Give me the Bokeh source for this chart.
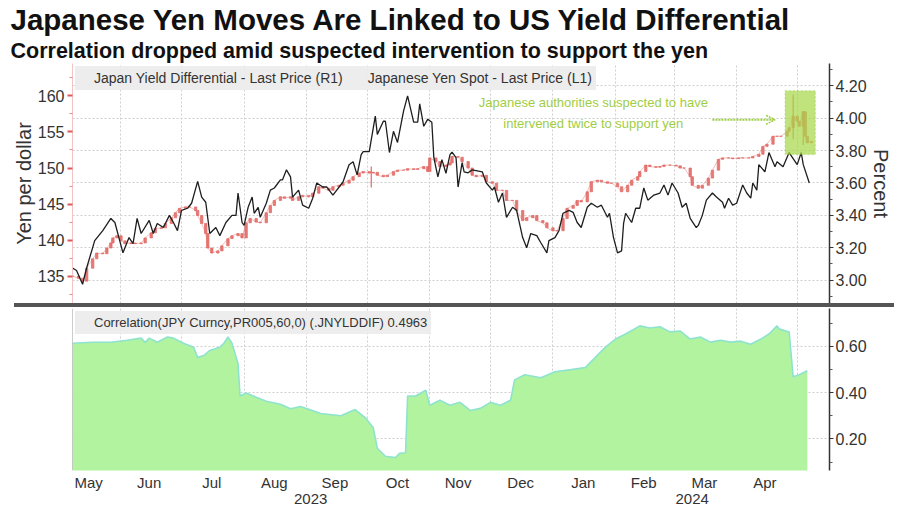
import pandas as pd
from bokeh.plotting import figure
from bokeh.layouts import column
from bokeh.models import (LinearAxis, Range1d, FixedTicker, Legend, LegendItem, Label,
                          Arrow, OpenHead, BoxAnnotation, Title, Div, Grid, Span,
                          NumeralTickFormatter)
from bokeh.embed import file_html
from bokeh.resources import INLINE

START = pd.Timestamp("2023-05-08")

# (days since 2023-05-08, Japan yield differential %)  -> right axis R1
yield_diff = [(0,3.075),(2,3.06),(5,2.975),(7,3.075),(11,3.244),(15,3.306),(19,3.381),(21,3.356),
 (25,3.169),(28,3.263),(30,3.225),(32,3.381),(34,3.288),(38,3.369),(40,3.288),(42,3.35),(45,3.325),
 (48,3.40),(50,3.356),(52,3.306),(54,3.431),(57,3.444),(59,3.475),(62,3.61),(64,3.513),(66,3.481),
 (68,3.288),(71,3.325),(73,3.275),(76,3.356),(79,3.40),(81,3.40),(82,3.538),(84,3.356),(85,3.338),
 (87,3.45),(89,3.513),(90,3.413),(92,3.45),(93,3.388),(96,3.475),(98,3.556),(100,3.569),(103,3.619),
 (104,3.619),(106,3.681),(108,3.638),(109,3.513),(112,3.556),(114,3.463),(117,3.444),(119,3.506),
 (121,3.60),(124,3.575),(126,3.575),(129,3.525),(134,3.606),(137,3.713),(139,3.731),(141,3.65),
 (143,3.775),(144,3.794),(147,3.794),(150,4.013),(151,3.90),(154,3.981),(155,3.981),(157,3.788),
 (159,3.919),(161,3.85),(164,4.044),(166,4.138),(169,3.975),(171,3.975),(172,4.088),(174,3.95),
 (176,3.994),(178,3.975),(179,3.756),(181,3.638),(183,3.744),(185,3.66),(187,3.775),(188,3.79),
 (190,3.756),(191,3.575),(193,3.725),(194,3.669),(196,3.663),(198,3.681),(203,3.669),(205,3.60),
 (208,3.556),(209,3.575),(211,3.481),(213,3.538),(215,3.388),(218,3.45),(220,3.431),(223,3.263),
 (225,3.20),(227,3.288),(230,3.275),(232,3.231),(235,3.169),(236,3.244),(239,3.263),(241,3.306),
 (243,3.413),(246,3.431),(248,3.419),(250,3.356),(252,3.325),(255,3.45),(257,3.475),(260,3.45),
 (262,3.463),(265,3.388),(266,3.413),(268,3.263),(270,3.169),(272,3.181),(273,3.35),(274,3.413),
 (277,3.356),(279,3.444),(281,3.444),(283,3.569),(285,3.494),(288,3.525),(291,3.538),(293,3.588),
 (295,3.525),(297,3.60),(300,3.538),(302,3.45),(304,3.475),(306,3.381),(309,3.325),(310,3.338),
 (312,3.40),(314,3.494),(317,3.538),(319,3.513),(322,3.481),(323,3.444),(325,3.506),(327,3.463),
 (329,3.475),(332,3.588),(334,3.538),(336,3.506),(337,3.60),(339,3.556),(340,3.713),(343,3.669),
 (345,3.788),(348,3.70),(349,3.731),(352,3.70),(355,3.788),(359,3.713),(361,3.788),(362,3.713),
 (365,3.60)]

# (days since 2023-05-08, USDJPY close) -> left axis L1
yen_spot = [(0,135.0),(3,134.7),(5,134.3),(7,136.1),(10,137.4),(12,138.2),(15,138.1),(17,138.9),
 (19,139.6),(20,140.3),(22,140.6),(24,139.9),(26,139.5),(29,139.6),(31,139.5),(34,139.6),(36,140.3),
 (39,141.0),(41,141.6),(44,141.7),(46,142.3),(49,143.1),(51,143.8),(53,144.4),(56,144.6),(58,144.6),
 (61,144.1),(62,143.4),(64,142.3),(66,140.9),(67,138.9),(69,138.2),(72,138.5),(74,139.2),(77,140.2),
 (79,140.6),(82,140.9),(84,140.3),(86,142.4),(88,143.0),(91,142.5),(93,142.4),(96,143.8),(98,144.8),
 (100,145.5),(103,146.0),(105,145.8),(108,146.0),(109,145.5),(112,146.0),(114,146.2),(117,146.0),
 (119,146.5),(122,147.4),(124,147.2),(127,146.9),(129,147.4),(132,147.6),(134,147.9),(137,148.3),
 (139,148.8),(142,149.3),(144,149.5),(147,149.3),(149,149.4),(151,149.0),(154,148.8),(156,149.0),
 (159,149.5),(161,149.7),(164,149.7),(166,149.9),(169,149.8),(171,149.9),(174,150.2),(176,149.5),
 (177,151.4),(180,150.9),(182,150.2),(185,150.4),(187,150.7),(188,151.6),(191,151.5),(193,150.9),
 (196,150.0),(198,149.0),(200,148.8),(203,149.0),(205,148.1),(208,147.9),(210,146.9),(213,146.9),
 (215,145.5),(218,145.5),(220,144.1),(223,142.7),(225,143.1),(228,143.4),(230,142.7),(233,142.4),
 (235,141.7),(238,141.3),(240,141.3),(243,143.0),(245,144.4),(248,144.8),(250,145.5),(252,145.3),
 (255,146.7),(257,148.1),(260,148.3),(262,148.1),(265,147.9),(267,147.9),(270,147.4),(272,146.7),
 (275,147.6),(277,148.3),(280,148.8),(281,149.5),(284,150.4),(286,150.2),(289,150.1),(291,150.2),
 (293,150.4),(296,150.4),(299,150.3),(301,150.0),(303,150.0),(306,148.8),(307,147.6),(310,147.2),
 (312,147.6),(315,148.6),(317,149.7),(320,151.2),(322,151.4),(325,151.4),(327,151.3),(330,151.4),
 (332,151.4),(335,151.4),(337,151.6),(340,151.9),(342,153.0),(344,153.3),(347,154.4),(349,154.4),
 (351,154.4),(354,155.1),(355,155.6),(357,157.2),(359,156.5),(360,155.8),(362,157.8),(363,154.4),
 (364,153.5),(366,153.7)]

# notable intraday ranges (days, low, high)
yen_wicks = [(148,147.3,150.2),(357,154.0,160.2),(362,153.2,157.9)]

# (days since 2023-05-08, 60-day correlation)
correlation = [(0,0.613),(10,0.617),(19,0.617),(27,0.626),(34,0.635),(36,0.617),(38,0.635),(42,0.617),
 (47,0.64),(50,0.635),(55,0.613),(60,0.596),(62,0.552),(65,0.56),(68,0.582),(73,0.596),(75,0.613),
 (77,0.64),(79,0.613),(82,0.525),(83,0.385),(86,0.398),(91,0.38),(96,0.363),(103,0.35),(108,0.33),
 (113,0.34),(123,0.31),(133,0.30),(140,0.327),(145,0.292),(149,0.248),(151,0.16),(155,0.125),
 (160,0.12),(162,0.138),(165,0.14),(166,0.385),(170,0.385),(175,0.41),(177,0.345),(182,0.367),
 (187,0.345),(192,0.358),(197,0.323),(202,0.332),(207,0.358),(212,0.345),(217,0.367),(219,0.455),
 (224,0.477),(232,0.464),(239,0.49),(247,0.499),(254,0.508),(259,0.552),(264,0.596),(269,0.631),
 (274,0.653),(281,0.688),(286,0.679),(291,0.684),(296,0.662),(301,0.666),(306,0.631),(311,0.64),
 (316,0.618),(321,0.626),(326,0.618),(331,0.622),(336,0.609),(341,0.631),(345,0.653),(349,0.688),
 (350,0.675),(355,0.662),(357,0.468),(360,0.477),(364,0.494)]

month_starts = ["2023-06-01","2023-07-01","2023-08-01","2023-09-01","2023-10-01","2023-11-01",
                "2023-12-01","2024-01-01","2024-02-01","2024-03-01","2024-04-01","2024-05-01"]
month_label_dates = ["2023-05-16","2023-06-15","2023-07-16","2023-08-16","2023-09-15","2023-10-16",
                     "2023-11-15","2023-12-16","2024-01-16","2024-02-15","2024-03-16","2024-04-15"]
month_labels = ["May","Jun","Jul","Aug","Sep","Oct","Nov","Dec","Jan","Feb","Mar","Apr"]
year_label_dates = ["2023-09-03","2024-03-10"]
year_labels = ["2023","2024"]

yen_ticks = [135, 140, 145, 150, 155, 160]
pct_ticks = [3.0, 3.2, 3.4, 3.6, 3.8, 4.0, 4.2]
corr_ticks = [0.2, 0.4, 0.6]


def day(s):
    return (pd.Timestamp(s) - START).days


FONT = "Liberation Sans"
GREEN_TXT = "#9fcd45"
RED = "#e26a66"
TXT = "#333333"
W = 898
MBL, MBR = 72, 69

d_days = [a for a, _ in yield_diff]
d_vals = [b for _, b in yield_diff]
y_days = [a for a, _ in yen_spot]
y_close = [b for _, b in yen_spot]
y_open = [y_close[0]] + y_close[:-1]
y_top = [max(o, c) for o, c in zip(y_open, y_close)]
y_bot = [min(o, c) for o, c in zip(y_open, y_close)]
c_days = [a for a, _ in correlation]
c_vals = [b for _, b in correlation]

xr = Range1d(0, 375)

# ---------------- top panel ----------------
p = figure(width=W, height=303, x_range=xr, y_range=Range1d(131.2, 164.5),
           output_backend="svg", toolbar_location=None,
           x_axis_location=None, y_axis_location=None,
           min_border_left=MBL, min_border_right=MBR, min_border_top=0, min_border_bottom=0)
p.extra_y_ranges = {"pct": Range1d(2.856, 4.3375)}
p.outline_line_color = None

for g in p.grid:
    g.visible = False
p.add_layout(Grid(dimension=0, ticker=FixedTicker(ticks=[day(s) for s in month_starts]),
                  grid_line_color="#cfcfcf", grid_line_dash="2 2", grid_line_width=1))
p.add_layout(Grid(dimension=1, y_range_name="pct", ticker=FixedTicker(ticks=pct_ticks),
                  grid_line_color="#cfcfcf", grid_line_dash="2 2", grid_line_width=1))

left = LinearAxis(ticker=FixedTicker(ticks=yen_ticks, minor_ticks=[132.5 + 5 * i for i in range(7)]),
                  axis_label="Yen per dollar", axis_label_text_font=FONT,
                  axis_label_text_font_size="20px", axis_label_text_font_style="normal",
                  axis_label_text_color=TXT, axis_label_standoff=0,
                  axis_line_color="#f2c4c4", major_tick_line_color="#e05a5a",
                  minor_tick_line_color="#e88a8a", major_tick_out=5, major_tick_in=0,
                  minor_tick_out=3, minor_tick_in=0, major_tick_line_width=2,
                  major_label_text_font=FONT, major_label_text_font_size="16px",
                  major_label_text_color=TXT, major_label_standoff=3)
p.add_layout(left, "left")

right = LinearAxis(y_range_name="pct",
                   ticker=FixedTicker(ticks=pct_ticks, minor_ticks=[2.9 + 0.2 * i for i in range(8)]),
                   formatter=NumeralTickFormatter(format="0.00"),
                   axis_label="Percent", axis_label_text_font=FONT,
                   axis_label_text_font_size="20px", axis_label_text_font_style="normal",
                   axis_label_text_color=TXT, axis_label_standoff=0,
                   axis_line_color=TXT, axis_line_width=1.5,
                   major_tick_line_color=TXT, minor_tick_line_color="#555555",
                   major_tick_out=4, major_tick_in=0, minor_tick_out=3, minor_tick_in=0,
                   major_label_text_font=FONT, major_label_text_font_size="16px",
                   major_label_text_color=TXT, major_label_standoff=2)
p.add_layout(right, "right")

# yen candles
p.line(y_days, y_close, line_color=RED, line_width=0.8, line_alpha=0.55)
p.vbar(x=y_days, top=y_top, bottom=y_bot, width=1.2, fill_color=RED, line_color=RED,
       line_width=0.7, fill_alpha=0.9)
p.segment(x0=[w[0] for w in yen_wicks], y0=[w[1] for w in yen_wicks],
          x1=[w[0] for w in yen_wicks], y1=[w[2] for w in yen_wicks], line_color=RED, line_width=1.2)

# yield differential line
p.line(d_days, d_vals, y_range_name="pct", line_color="#1e1e1e", line_width=1.3)

# intervention box, annotation and arrow
p.add_layout(BoxAnnotation(left=353, right=368, top=4.17, bottom=3.775, y_range_name="pct",
                           fill_color="#a9d84b", fill_alpha=0.72, line_color="#8fc52f",
                           line_dash="2 2", line_width=1.5))
p.add_layout(Label(x=258, y=4.094, y_range_name="pct", text="Japanese authorities suspected to have",
                   text_align="center", text_baseline="middle", text_color=GREEN_TXT,
                   text_font=FONT, text_font_size="13px"))
p.add_layout(Label(x=258, y=3.969, y_range_name="pct", text="intervened twice to support yen",
                   text_align="center", text_baseline="middle", text_color=GREEN_TXT,
                   text_font=FONT, text_font_size="13px"))
p.add_layout(Arrow(end=OpenHead(size=9, line_color=GREEN_TXT, line_width=1.5, line_dash="2 1"),
                   x_start=317, y_start=3.99, x_end=348, y_end=3.99, y_range_name="pct",
                   line_color=GREEN_TXT, line_width=2, line_dash="2 1"))

# legend (top)
lr1 = p.scatter([], [], marker="square", size=11, color="#111111")
lr2 = p.scatter([], [], marker="square", size=11, color="#e8625e")
leg = Legend(items=[LegendItem(label="Japan Yield Differential - Last Price (R1)", renderers=[lr1]),
                    LegendItem(label="Japanese Yen Spot - Last Price (L1)", renderers=[lr2])],
             location="top_left", orientation="horizontal", margin=3, padding=4, spacing=10,
             glyph_width=12, glyph_height=12, label_standoff=3,
             label_text_font=FONT, label_text_font_size="14px", label_text_color=TXT,
             background_fill_color="#ececec", background_fill_alpha=0.95, border_line_alpha=0)
p.add_layout(leg)

p.add_layout(Title(text="Correlation dropped amid suspected intervention to support the yen",
                   text_font=FONT, text_font_size="21.5px", text_font_style="bold",
                   text_color="#111111", offset=-62, standoff=2), "above")
p.add_layout(Title(text="Japanese Yen Moves Are Linked to US Yield Differential",
                   text_font=FONT, text_font_size="29.5px", text_font_style="bold",
                   text_color="#111111", offset=-62, standoff=0), "above")

# ---------------- separator ----------------
sep = Div(text="", width=880, height=4, margin=(0, 0, 0, 14),
          styles={"background-color": "#555555"})

# ---------------- bottom panel ----------------
q = figure(width=W, height=199, x_range=xr, y_range=Range1d(0.0637, 0.763),
           output_backend="svg", toolbar_location=None,
           x_axis_location=None, y_axis_location=None,
           min_border_left=MBL, min_border_right=MBR, min_border_top=1, min_border_bottom=0)
q.outline_line_color = None
for g in q.grid:
    g.visible = False
q.add_layout(Grid(dimension=0, ticker=FixedTicker(ticks=[day(s) for s in month_starts]),
                  grid_line_color="#cfcfcf", grid_line_dash="2 2", grid_line_width=1))
q.add_layout(Grid(dimension=1, ticker=FixedTicker(ticks=corr_ticks),
                  grid_line_color="#cfcfcf", grid_line_dash="2 2", grid_line_width=1))

q.varea(x=c_days, y1=[0.0] * len(c_days), y2=c_vals, fill_color="#b2f3a0", fill_alpha=1.0)
q.line(c_days, c_vals, line_color="#8ee3cf", line_width=1.6)
q.add_layout(Span(location=0, dimension="height", line_color="#9a9a9a", line_width=1))

qr = LinearAxis(ticker=FixedTicker(ticks=corr_ticks, minor_ticks=[0.1, 0.3, 0.5, 0.7]),
                formatter=NumeralTickFormatter(format="0.00"),
                axis_line_color=TXT, axis_line_width=1.5,
                major_tick_line_color=TXT, minor_tick_line_color="#555555",
                major_tick_out=4, major_tick_in=0, minor_tick_out=3, minor_tick_in=0,
                major_label_text_font=FONT, major_label_text_font_size="16px",
                major_label_text_color=TXT, major_label_standoff=2)
q.add_layout(qr, "right")

mticks = [day(s) for s in month_label_dates]
xa = LinearAxis(ticker=FixedTicker(ticks=mticks),
                major_label_overrides={t: l for t, l in zip(mticks, month_labels)},
                axis_line_color=None, major_tick_line_color=None, minor_tick_line_color=None,
                major_tick_out=0, major_tick_in=0, minor_tick_out=0, minor_tick_in=0,
                major_label_text_font=FONT, major_label_text_font_size="15px",
                major_label_text_color=TXT, major_label_standoff=3)
q.add_layout(xa, "below")
yticks = [day(s) for s in year_label_dates]
ya = LinearAxis(ticker=FixedTicker(ticks=yticks),
                major_label_overrides={t: l for t, l in zip(yticks, year_labels)},
                axis_line_color=None, major_tick_line_color=None, minor_tick_line_color=None,
                major_tick_out=0, major_tick_in=0, minor_tick_out=0, minor_tick_in=0,
                major_label_text_font=FONT, major_label_text_font_size="15px",
                major_label_text_color=TXT, major_label_standoff=0)
q.add_layout(ya, "below")

lc = q.scatter([], [], marker="square", size=11, color="#86e6e6")
leg2 = Legend(items=[LegendItem(label="Correlation(JPY Curncy,PR005,60,0) (.JNYLDDIF) 0.4963",
                                renderers=[lc])],
              location="top_left", margin=3, padding=4, glyph_width=12, glyph_height=12,
              label_standoff=3, label_text_font=FONT, label_text_font_size="13px",
              label_text_color=TXT, background_fill_color="#ececec",
              background_fill_alpha=0.95, border_line_alpha=0)
q.add_layout(leg2)

layout = column(p, sep, q, spacing=0)
open("out.html", "w").write(file_html(layout, INLINE))
